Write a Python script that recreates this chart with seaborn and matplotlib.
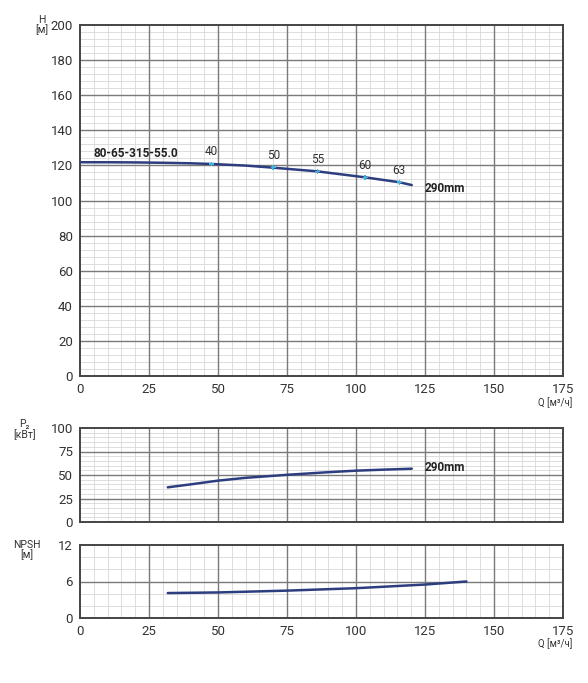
import numpy as np
import matplotlib
matplotlib.use('Agg')
import matplotlib.pyplot as plt
import seaborn as sns
from matplotlib.ticker import MultipleLocator

# head curve H(Q)
q_h = [0, 10, 20, 30, 40, 47.7, 60, 70, 86, 103.3, 115.7, 120.2]
h = [121.8, 121.8, 121.7, 121.5, 121.2, 120.8, 119.9, 118.7, 116.6, 113.2, 110.4, 108.8]

# efficiency marks on the head curve
q_eff = [47.7, 70, 86, 103.3, 115.7]
h_eff = [120.8, 118.7, 116.6, 113.2, 110.4]
eff_labels = ['40', '50', '55', '60', '63']

# power curve P2(Q)
q_p = [31.8, 40, 50, 60, 75, 90, 100, 110, 120.2]
p2 = [36.9, 40.0, 44.0, 47.0, 50.2, 53.0, 54.6, 55.7, 56.7]

# NPSH curve
q_n = [31.8, 50, 75, 100, 125, 140]
npsh = [4.1, 4.2, 4.5, 4.9, 5.5, 6.0]

model = '80-65-315-55.0'
impeller = '290mm'

sns.set_style('white')
plt.rcParams['font.family'] = ['Roboto', 'DejaVu Sans']

line_col = '#2c3e7f'
pt_col = '#3fb6e0'
txt_col = '#333333'

fig = plt.figure(figsize=(5.88, 6.83), dpi=100)
ax1 = fig.add_axes([80/588, 1-376/683, 483/588, 351/683])
ax2 = fig.add_axes([80/588, 1-522/683, 483/588, 94/683])
ax3 = fig.add_axes([80/588, 1-618/683, 483/588, 73/683])


def style(ax, ymax, ymaj, ymin, xlabels=True):
    ax.set_xlim(0, 175)
    ax.set_ylim(0, ymax)
    ax.xaxis.set_major_locator(MultipleLocator(25))
    ax.xaxis.set_minor_locator(MultipleLocator(5))
    ax.yaxis.set_major_locator(MultipleLocator(ymaj))
    ax.yaxis.set_minor_locator(MultipleLocator(ymin))
    ax.grid(which='minor', color='#d8d8d8', lw=0.6)
    ax.set_axisbelow(True)
    # major grid drawn above the minor one so it stays unbroken
    for x in ax.get_xticks():
        if 0 < x < 175:
            ax.axvline(x, color='#7a7a7a', lw=1.0, zorder=0.8)
    for y in ax.get_yticks():
        if 0 < y < ymax:
            ax.axhline(y, color='#7a7a7a', lw=1.0, zorder=0.8)
    for s in ax.spines.values():
        s.set_color('#444444')
        s.set_linewidth(1.4)
    ax.tick_params(which='major', direction='out', length=3, width=0.8,
                   color='#444444', labelsize=9.5, labelcolor=txt_col, pad=2)
    ax.tick_params(which='minor', length=0)
    if not xlabels:
        ax.set_xticklabels([])
    ax.set_xlabel('')
    ax.set_ylabel('')


sns.lineplot(x=q_h, y=h, ax=ax1, color=line_col, lw=1.8, zorder=3)
sns.scatterplot(x=q_eff, y=h_eff, ax=ax1, color=pt_col, s=12, marker='P',
                edgecolor='none', zorder=5)
for q, v, lab in zip(q_eff, h_eff, eff_labels):
    ax1.annotate(lab, (q, v), xytext=(0, 4), textcoords='offset points',
                 ha='center', va='bottom', fontsize=8.5, color=txt_col)
ax1.text(5, 123.3, model, fontsize=8.5, fontweight='bold', color='#222222',
         ha='left', va='bottom')
ax1.text(125, 107, impeller, fontsize=8.5, fontweight='bold', color='#222222',
         ha='left', va='center')
style(ax1, 200, 20, 4)

sns.lineplot(x=q_p, y=p2, ax=ax2, color=line_col, lw=1.8, zorder=3)
ax2.text(125, 58, impeller, fontsize=8.5, fontweight='bold', color='#222222',
         ha='left', va='center')
style(ax2, 100, 25, 5, xlabels=False)

sns.lineplot(x=q_n, y=npsh, ax=ax3, color=line_col, lw=1.8, zorder=3)
style(ax3, 12, 6, 2)

ax1.text(-0.079, 1.0, 'H\n[м]', transform=ax1.transAxes, ha='center',
         va='center', fontsize=7.5, color=txt_col, linespacing=1.0)
ax2.text(-0.115, 0.98, 'P₂\n[кВт]', transform=ax2.transAxes, ha='center',
         va='center', fontsize=7.5, color=txt_col, linespacing=1.0)
ax3.text(-0.11, 0.93, 'NPSH\n[м]', transform=ax3.transAxes, ha='center',
         va='center', fontsize=7.5, color=txt_col, linespacing=1.0)
for ax, dy in ((ax1, 27/351), (ax3, 26/73)):
    ax.text(1.02, -dy, 'Q [м³/ч]', transform=ax.transAxes, ha='right',
            va='center', fontsize=7, color=txt_col)

fig.savefig('out.png', dpi=100)
